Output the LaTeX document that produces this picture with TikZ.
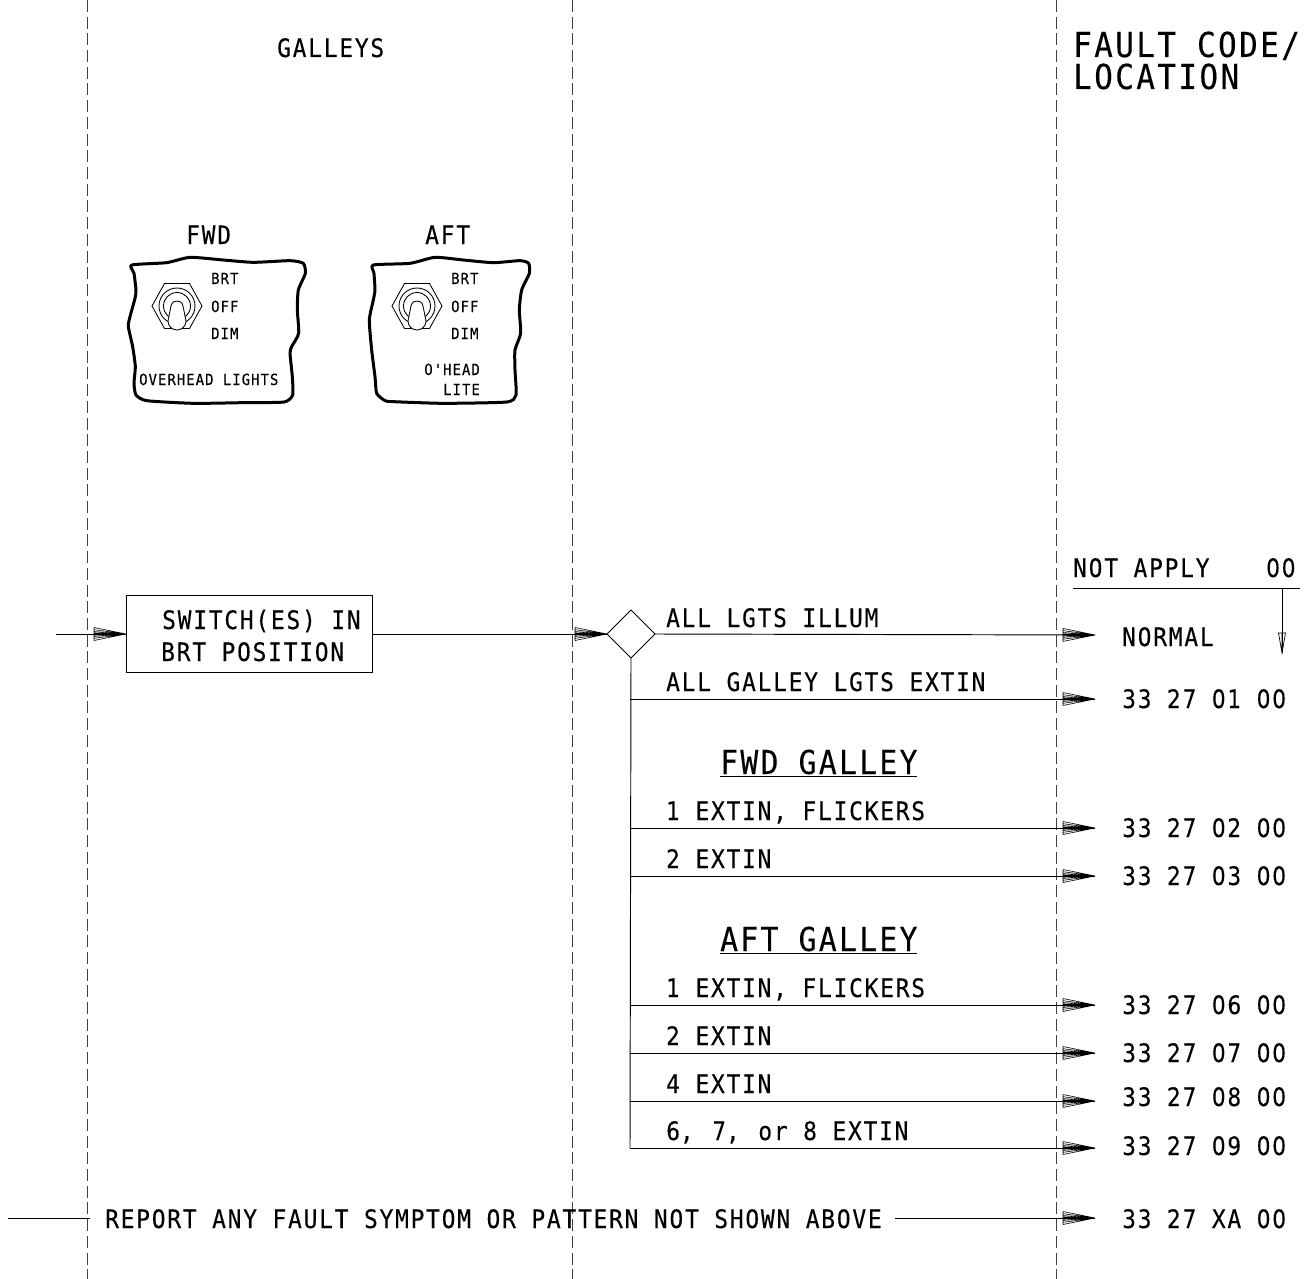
\documentclass[tikz,border=0pt]{standalone}
\usepackage{fontspec}
\newfontfamily\monof{DejaVu Sans Mono}[FakeStretch=0.9,LetterSpace=7,FakeBold=0.25]
\newfontfamily\digitf{DejaVu Sans}[FakeStretch=0.852,LetterSpace=7,FakeBold=0.25]
\newcommand{\dg}[1]{{\digitf #1}}
\pgfarrowsdeclare{fan}{fan}{\pgfarrowsleftextend{-32pt}\pgfarrowsrightextend{0pt}}{
  \pgfsetlinewidth{0.6pt}\pgfsetmiterjoin
  \foreach \k in {-6.5,-4.3,-2.4,-1,0,1,2.4,4.3,6.5}{
    \pgfpathmoveto{\pgfpoint{0pt}{0pt}}\pgfpathlineto{\pgfpoint{-32pt}{\k pt}}}
  \pgfpathmoveto{\pgfpoint{-32pt}{-6.5pt}}\pgfpathlineto{\pgfpoint{-32pt}{6.5pt}}
  \pgfusepathqstroke}
\pgfarrowsdeclare{nfan}{nfan}{\pgfarrowsleftextend{-20pt}\pgfarrowsrightextend{0pt}}{
  \pgfsetlinewidth{0.7pt}
  \pgfpathmoveto{\pgfpoint{-20pt}{-3.5pt}}\pgfpathlineto{\pgfpoint{0pt}{0pt}}\pgfpathlineto{\pgfpoint{-20pt}{3.5pt}}\pgfpathclose
  \pgfpathmoveto{\pgfpoint{0pt}{0pt}}\pgfpathlineto{\pgfpoint{-20pt}{0pt}}
  \pgfusepathqstroke}
\tikzset{
  x=1pt,y=-1pt,
  wire/.style={line width=0.95pt,black},
  flow/.style={wire,-fan},
  lane/.style={line width=0.9pt,black!75,dash pattern=on 12pt off 4.7pt},
  txt/.style={anchor=base west,inner sep=0pt,font=\monof\fontsize{25.4}{25.4}\selectfont},
  big/.style={txt,font=\monof\fontsize{33}{33}\selectfont},
  big2/.style={txt,font=\monof\fontsize{34.4}{34.4}\selectfont},
  small/.style={txt,font=\monof\fontsize{15.4}{15.4}\selectfont},
  panel/.style={line width=3pt,line join=round},
  thin/.style={line width=0.85pt},
}
\newcommand{\tswitch}[2]{%
  \begin{scope}[shift={(#1,#2)}]
    \draw[thin] (-25,0)--(-12.5,-22.5)--(12.5,-22.5)--(25,0)--(12.5,22.5)--(-12.5,22.5)--cycle;
    \draw[thin] (0,0) circle[radius=18];
    \draw[thin] (0,0) circle[radius=13.5];
    \draw[thin,fill=white] (-9,15) -- (-6,0) .. controls (-5,-4) and (-3,-5) .. (0,-5) .. controls (3,-5) and (5,-4) .. (6,0)
      -- (9,15) .. controls (9,20) and (5,24) .. (0,24) .. controls (-5,24) and (-9,20) .. (-9,15) -- cycle;
  \end{scope}}
\begin{document}
\begin{tikzpicture}
\useasboundingbox (0,0) rectangle (1310,1279);
% lanes
\draw[lane] (87,0) -- (87,1279);
\draw[lane] (572,0) -- (572,1279);
\draw[lane] (1056,0) -- (1056,1279);
% headers
\node[txt] (tgal) at (277,57) {GALLEYS};
\node[big2] (tfc) at (1073,57) {FAULT CODE/};
\node[big2] (tloc) at (1073,89) {LOCATION};
\node[txt] (tfwd) at (186,244) {FWD};
\node[txt] (taft) at (425,244) {AFT};
% panels
\begin{scope}[shift={(110,210)},scale=0.33333]
\draw[panel] plot[smooth cycle,tension=0.35] coordinates {(65,165)(170,158)(240,142)(340,150)(430,157)(540,152)(580,160)(586,190)(565,240)(562,300)(566,370)(545,410)(540,430)(547,500)(548,555)(522,576)(400,578)(250,580)(110,572)(78,555)(72,520)(76,470)(68,410)(55,350)(60,320)(75,265)(78,240)(72,190)};
\draw[panel] plot[smooth cycle,tension=0.35] coordinates {(790,165)(900,160)(975,142)(1060,150)(1150,158)(1230,152)(1256,160)(1258,190)(1235,240)(1228,300)(1232,370)(1215,420)(1215,480)(1218,555)(1190,576)(1000,580)(850,575)(825,572)(800,550)(795,500)(785,420)(778,330)(790,270)(795,240)(792,190)};
\end{scope}
\tswitch{177}{306}
\tswitch{417}{306}
\node[small] at (211,284) {BRT};
\node[small] at (211,312) {OFF};
\node[small] at (211,339) {DIM};
\node[small] at (139,385) {OVERHEAD LIGHTS};
\node[small] at (451,284) {BRT};
\node[small] at (451,312) {OFF};
\node[small] at (451,339) {DIM};
\node[small,anchor=base east] at (480,375) {O'HEAD};
\node[small,anchor=base east] at (480,395) {LITE};
% box and diamond
\draw[wire] (126,595) rectangle (372,672);
\coordinate (bl) at (126,634);
\coordinate (br) at (372,634);
\coordinate (in) at (56,634);
\node[txt] (b1) at (162,629) {SWITCH(ES) IN};
\node[txt] (b2) at (161,661) {BRT POSITION};
\coordinate (dw) at (607,634);
\coordinate (de) at (655,634);
\coordinate (dn) at (631,610);
\coordinate (ds) at (631,658);
\draw[wire] (dw)--(dn)--(de)--(ds)--cycle;
\draw[flow] (in) -- (bl);
\draw[flow] (br) -- (dw);
% outputs
\coordinate (o0) at (1095,635);
\draw[flow] (de) -- (o0);
\coordinate (j9) at (630,1148);
\draw[wire] (ds) -- (j9);
\foreach \n/\y in {1/699,2/828,3/876,4/1005,5/1053,6/1101,7/1148}{
  \coordinate (j\n) at (630,\y);
  \coordinate (o\n) at (1095,\y);
  \draw[flow] (j\n) -- (o\n);
}
\node[txt] at (666,627) {ALL LGTS ILLUM};
\node[txt] at (666,691) {ALL GALLEY LGTS EXTIN};
\node[big] at (720,774) {\underline{FWD GALLEY}};
\node[txt] at (666,820) {\dg{1} EXTIN, FLICKERS};
\node[txt] at (666,868) {\dg{2} EXTIN};
\node[big] at (720,951) {\underline{AFT GALLEY}};
\node[txt] at (666,997) {\dg{1} EXTIN, FLICKERS};
\node[txt] at (666,1045) {\dg{2} EXTIN};
\node[txt] at (666,1093) {\dg{4} EXTIN};
\node[txt] at (666,1140) {\dg{6},\hspace{3pt} \dg{7},\hspace{3pt} or \dg{8} EXTIN};
\node[txt] at (1122,646) {NORMAL};
\node[txt] at (1122,708) {\dg{33} \dg{27} \dg{01} \dg{00}};
\node[txt] at (1122,837) {\dg{33} \dg{27} \dg{02} \dg{00}};
\node[txt] at (1122,885) {\dg{33} \dg{27} \dg{03} \dg{00}};
\node[txt] at (1122,1014) {\dg{33} \dg{27} \dg{06} \dg{00}};
\node[txt] at (1122,1062) {\dg{33} \dg{27} \dg{07} \dg{00}};
\node[txt] at (1122,1106) {\dg{33} \dg{27} \dg{08} \dg{00}};
\node[txt] at (1122,1155) {\dg{33} \dg{27} \dg{09} \dg{00}};
\node[txt] at (1122,1228) {\dg{33} \dg{27} XA \dg{00}};
% not apply
\node[txt] at (1073,577) {NOT APPLY};
\node[txt] at (1266,577) {\dg{00}};
\coordinate (na1) at (1073,588);
\coordinate (na2) at (1300,588);
\coordinate (na3) at (1282,588);
\coordinate (na4) at (1282,653);
\draw[wire] (na1) -- (na2);
\draw[wire,-nfan] (na3) -- (na4);
% bottom
\node[txt] (rep) at (105,1228) {REPORT ANY FAULT SYMPTOM OR PATTERN NOT SHOWN ABOVE};
\coordinate (lin) at (8,1218);
\coordinate (lout) at (90,1218);
\coordinate (o8) at (1095,1218);
\coordinate (rout) at (895,1218);
\draw[wire] (lin) -- (lout);
\draw[flow] (rout) -- (o8);
\end{tikzpicture}
\end{document}
